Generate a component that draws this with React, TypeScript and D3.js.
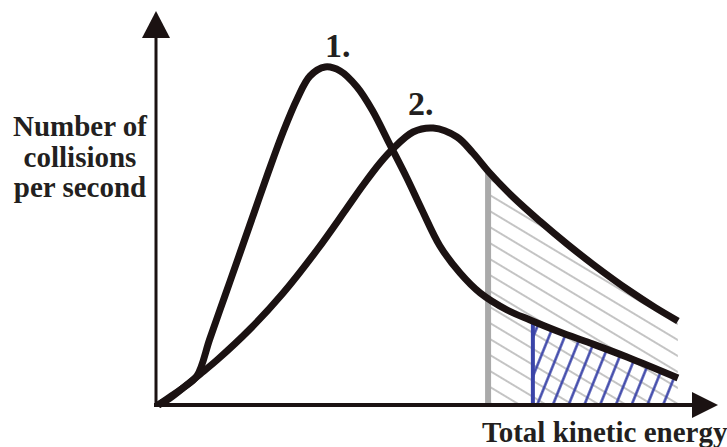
import * as d3 from "d3";

// Curve 1: narrow, tall distribution (energy, collisions)
const curve1Energy = [0.4, 2.5, 4.8, 7.3, 9.6, 12.3, 15.0, 17.5, 20.0, 22.7, 25.2, 27.5, 30.2, 32.9, 35.9, 38.6, 41.8, 44.8, 47.5, 50.7, 54.3, 57.9, 62.7, 66.8, 72.1, 77.5, 84.1, 93.2];
const curve1Count = [0, 1.75, 4.25, 7.25, 16.5, 27.25, 38, 48, 58, 68.25, 76.5, 82.25, 84.5, 83.5, 79.5, 73.75, 65, 56.75, 48.75, 39.75, 33, 28, 23.75, 21.25, 18.25, 15.5, 12, 6.75];

// Curve 2: wider, flatter distribution
const curve2Energy = [0.4, 2.5, 4.8, 7.9, 10.9, 16.8, 22.7, 28.75, 34.1, 37.0, 40.0, 42.1, 45.9, 49.5, 53.75, 56.6, 59.6, 63.75, 68.6, 73.4, 78.0, 84.6, 89.1, 93.2];
const curve2Count = [0, 2, 4.25, 7.75, 11.25, 19, 28, 38.75, 49.25, 55, 60.5, 63.75, 68.25, 69.25, 67, 63, 58, 52, 45.9, 40.25, 35.2, 28.5, 24.4, 21];

// thresholds (activation energies)
const grayThreshold = 59.3;
const blueThreshold = 67.3;

const yLabelLines = ["Number of", "collisions", "per second"];
const xLabel = "Total kinetic energy";
const curveLabels = ["1.", "2."];

const W = 727;
const H = 447;
const ink = "#1b1212";

type Pt = { x: number; y: number };

const zip = (xs: number[], ys: number[]): Pt[] => xs.map((x, i) => ({ x, y: ys[i] }));

export default function App() {
	const x = d3.scaleLinear().domain([0, 100]).range([156, 716]);
	const y = d3.scaleLinear().domain([0, 100]).range([405, 5]);

	const c1 = zip(curve1Energy, curve1Count);
	const c2 = zip(curve2Energy, curve2Count);

	const line = d3
		.line<Pt>()
		.x((d) => x(d.x))
		.y((d) => y(d.y))
		.curve(d3.curveCatmullRom.alpha(0.5));

	const area = d3
		.area<Pt>()
		.x((d) => x(d.x))
		.y0(y(0))
		.y1((d) => y(d.y))
		.curve(d3.curveCatmullRom.alpha(0.5));

	const x0 = x(0);
	const y0 = y(0);
	const c1End = x(curve1Energy[curve1Energy.length - 1]);
	const c2End = x(curve2Energy[curve2Energy.length - 1]);

	return (
		<svg
			width={W}
			height={H}
			style={{ position: "absolute", left: 0, top: 0, background: "#fff" }}
			fontFamily="'Liberation Serif', 'Times New Roman', serif"
			fontWeight="bold"
		>
			<defs>
				<pattern id="grayHatch" patternUnits="userSpaceOnUse" width={40} height={13.7} patternTransform="rotate(31) translate(0,4)">
					<line x1={0} x2={40} y1={6.85} y2={6.85} stroke="#b0b0b0" strokeWidth={1.7} />
				</pattern>
				<pattern id="blueHatch" patternUnits="userSpaceOnUse" width={40} height={14.6} patternTransform="rotate(-68)">
					<line x1={0} x2={40} y1={7.3} y2={7.3} stroke="#3a44a8" strokeWidth={2.4} />
				</pattern>
				<clipPath id="under1">
					<path d={area(c1) ?? ""} />
				</clipPath>
				<clipPath id="under2">
					<path d={area(c2) ?? ""} />
				</clipPath>
			</defs>

			{/* gray hatched region under curve 2 */}
			<g clipPath="url(#under2)">
				<rect x={x(grayThreshold)} y={0} width={c2End - x(grayThreshold)} height={y0} fill="url(#grayHatch)" />
				<line x1={x(grayThreshold)} x2={x(grayThreshold)} y1={0} y2={y0} stroke="#aaaaaa" strokeWidth={6} />
			</g>

			{/* blue hatched region under curve 1 */}
			<g clipPath="url(#under1)">
				<rect x={x(blueThreshold)} y={0} width={c1End - x(blueThreshold)} height={y0} fill="url(#blueHatch)" />
				<line x1={x(blueThreshold)} x2={x(blueThreshold)} y1={0} y2={y0} stroke="#3a44a8" strokeWidth={4} />
			</g>

			{/* curves */}
			<path d={line(c1) ?? ""} fill="none" stroke={ink} strokeWidth={7} strokeLinejoin="round" />
			<path d={line(c2) ?? ""} fill="none" stroke={ink} strokeWidth={7} strokeLinejoin="round" />

			{/* axes */}
			<line x1={x0} x2={x0} y1={y0 + 2} y2={36} stroke={ink} strokeWidth={3} />
			<path d={`M${x0},11 L${x0 + 14},38 L${x0 - 14},38 Z`} fill={ink} />
			<line x1={x0 - 2} x2={694} y1={y0} y2={y0} stroke={ink} strokeWidth={4} />
			<path d={`M718,${y0} L692,${y0 - 13} L692,${y0 + 13} Z`} fill={ink} />

			{/* labels */}
			<g fill="#231f20" fontSize={29} textAnchor="middle">
				{yLabelLines.map((t, i) => (
					<text key={t} x={80} y={136 + i * 30.5}>
						{t}
					</text>
				))}
			</g>
			<text x={482} y={442} fontSize={29} fill="#231f20">
				{xLabel}
			</text>
			<text x={325} y={57} fontSize={34} fill="#231f20">
				{curveLabels[0]}
			</text>
			<text x={408} y={115} fontSize={34} fill="#231f20">
				{curveLabels[1]}
			</text>
		</svg>
	);
}
